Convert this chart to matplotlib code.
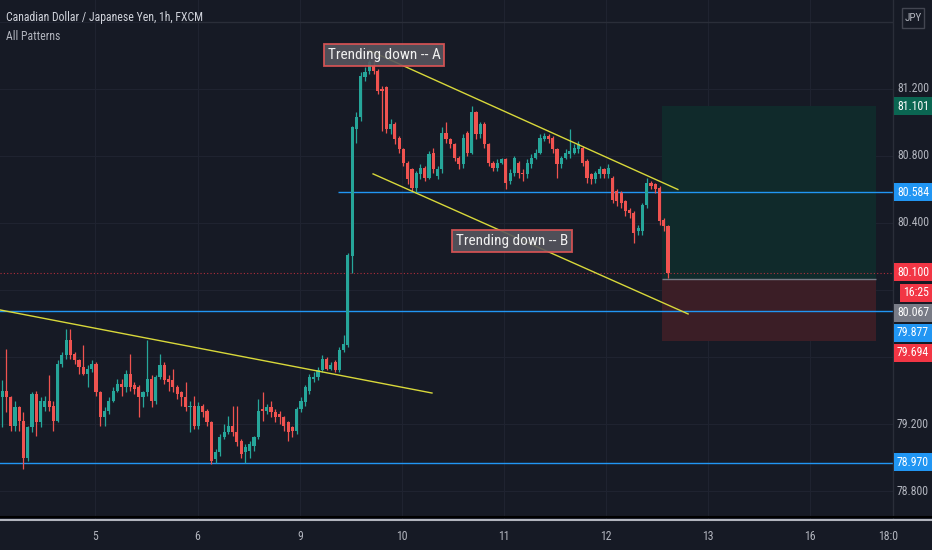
import numpy as np
import matplotlib
matplotlib.use('Agg')
import matplotlib.pyplot as plt
from matplotlib import font_manager
from matplotlib.patches import Rectangle
from matplotlib.lines import Line2D

installed = {f.name for f in font_manager.fontManager.ttflist}
narrow = [n for n in ['Liberation Sans Narrow', 'Roboto Condensed', 'Open Sans Condensed']
          if n in installed]
if narrow:
    plt.rcParams['font.family'] = [narrow[0], 'DejaVu Sans']
    FS = 1.0
else:
    plt.rcParams['font.family'] = ['Roboto', 'DejaVu Sans']
    FS = 0.85

# CAD/JPY 1h candles
opens = [79.36, 79.40, 79.36, 79.19, 79.30, 79.22, 79.00, 79.18, 79.38, 79.21,
         79.30, 79.34, 79.31, 79.22, 79.56, 79.61, 79.70, 79.62, 79.58, 79.54,
         79.50, 79.53, 79.56, 79.39, 79.24, 79.28, 79.34, 79.40, 79.44, 79.42,
         79.50, 79.43, 79.42, 79.36, 79.39, 79.47, 79.34, 79.48, 79.55, 79.47,
         79.46, 79.42, 79.39, 79.36, 79.30, 79.31, 79.19, 79.31, 79.28, 79.21,
         78.99, 79.03, 79.12, 79.15, 79.19, 79.15, 79.10, 79.03, 79.04, 79.07,
         79.12, 79.29, 79.28, 79.30, 79.27, 79.26, 79.24, 79.21, 79.18, 79.16,
         79.29, 79.33, 79.40, 79.47, 79.48, 79.52, 79.59, 79.53, 79.57, 79.52,
         79.64, 79.67, 80.20, 80.96, 81.03, 81.27, 81.31, 81.34, 81.31, 81.20,
         81.21, 80.96, 80.99, 80.91, 80.84, 80.76, 80.72, 80.61, 80.69, 80.73,
         80.67, 80.82, 80.68, 80.72, 80.94, 80.90, 80.87, 80.79, 80.75, 80.94,
         80.82, 81.06, 80.93, 80.99, 80.87, 80.76, 80.73, 80.76, 80.78, 80.65,
         80.70, 80.76, 80.70, 80.69, 80.75, 80.79, 80.82, 80.90, 80.92, 80.91,
         80.84, 80.75, 80.79, 80.81, 80.82, 80.84, 80.85, 80.77, 80.69, 80.66,
         80.69, 80.72, 80.69, 80.67, 80.59, 80.58, 80.53, 80.48, 80.46, 80.35,
         80.35, 80.51, 80.64, 80.63, 80.61, 80.42, 80.38]
highs = [79.46, 79.65, 79.37, 79.34, 79.31, 79.27, 79.19, 79.39, 79.40, 79.36,
         79.37, 79.49, 79.34, 79.58, 79.63, 79.77, 79.77, 79.63, 79.59, 79.67,
         79.55, 79.58, 79.57, 79.40, 79.30, 79.36, 79.42, 79.47, 79.47, 79.52,
         79.62, 79.45, 79.43, 79.40, 79.70, 79.49, 79.49, 79.62, 79.57, 79.49,
         79.53, 79.43, 79.40, 79.45, 79.34, 79.37, 79.33, 79.32, 79.29, 79.22,
         79.05, 79.14, 79.20, 79.25, 79.31, 79.31, 79.11, 79.08, 79.10, 79.13,
         79.35, 79.39, 79.32, 79.34, 79.29, 79.28, 79.25, 79.22, 79.19, 79.30,
         79.36, 79.43, 79.50, 79.51, 79.54, 79.61, 79.60, 79.57, 79.58, 79.66,
         79.73, 80.22, 80.98, 81.06, 81.30, 81.33, 81.37, 81.37, 81.32, 81.22,
         81.22, 81.02, 81.00, 80.92, 80.85, 80.77, 80.73, 80.71, 80.75, 80.74,
         80.83, 80.85, 80.74, 80.97, 81.00, 80.91, 80.88, 80.80, 80.93, 80.95,
         81.10, 81.07, 81.00, 81.00, 80.88, 80.77, 80.78, 80.79, 80.79, 80.72,
         80.80, 80.77, 80.72, 80.78, 80.81, 80.84, 80.93, 80.94, 80.93, 80.92,
         80.85, 80.80, 80.84, 80.96, 80.87, 80.89, 80.86, 80.78, 80.70, 80.71,
         80.74, 80.73, 80.75, 80.68, 80.60, 80.59, 80.54, 80.49, 80.47, 80.39,
         80.52, 80.67, 80.65, 80.64, 80.62, 80.43, 80.39]
lows = [79.18, 79.27, 79.16, 79.16, 79.16, 78.93, 78.98, 79.15, 79.13, 79.18,
        79.28, 79.28, 79.16, 79.21, 79.54, 79.59, 79.59, 79.56, 79.50, 79.49,
        79.42, 79.51, 79.37, 79.19, 79.19, 79.26, 79.33, 79.39, 79.37, 79.39,
        79.40, 79.38, 79.24, 79.30, 79.37, 79.30, 79.32, 79.47, 79.44, 79.40,
        79.39, 79.35, 79.31, 79.28, 79.15, 79.17, 79.17, 79.24, 79.19, 78.96,
        78.97, 79.01, 79.11, 79.14, 79.13, 79.07, 79.00, 78.97, 79.00, 79.04,
        79.11, 79.22, 79.26, 79.24, 79.21, 79.20, 79.16, 79.10, 79.12, 79.14,
        79.27, 79.31, 79.38, 79.45, 79.46, 79.51, 79.52, 79.52, 79.51, 79.51,
        79.63, 79.66, 80.10, 80.88, 81.01, 81.25, 81.29, 81.29, 81.17, 80.95,
        80.94, 80.93, 80.87, 80.82, 80.74, 80.63, 80.59, 80.58, 80.66, 80.65,
        80.66, 80.70, 80.66, 80.70, 80.88, 80.85, 80.77, 80.72, 80.73, 80.80,
        80.81, 80.90, 80.91, 80.85, 80.74, 80.71, 80.71, 80.75, 80.60, 80.63,
        80.68, 80.67, 80.65, 80.67, 80.73, 80.78, 80.81, 80.89, 80.88, 80.82,
        80.67, 80.73, 80.78, 80.79, 80.81, 80.82, 80.74, 80.64, 80.63, 80.64,
        80.67, 80.67, 80.67, 80.52, 80.50, 80.49, 80.44, 80.43, 80.28, 80.33,
        80.33, 80.49, 80.60, 80.58, 80.39, 80.35, 80.07]
closes = [79.40, 79.36, 79.19, 79.30, 79.22, 79.00, 79.18, 79.38, 79.21, 79.34,
          79.34, 79.30, 79.22, 79.56, 79.61, 79.70, 79.61, 79.58, 79.54, 79.50,
          79.53, 79.56, 79.39, 79.24, 79.28, 79.34, 79.40, 79.44, 79.42, 79.50,
          79.42, 79.41, 79.36, 79.39, 79.47, 79.34, 79.48, 79.55, 79.46, 79.45,
          79.42, 79.38, 79.36, 79.30, 79.31, 79.19, 79.31, 79.27, 79.21, 78.98,
          79.03, 79.12, 79.15, 79.19, 79.15, 79.09, 79.02, 79.06, 79.08, 79.12,
          79.28, 79.28, 79.30, 79.27, 79.24, 79.24, 79.19, 79.15, 79.16, 79.29,
          79.34, 79.42, 79.48, 79.48, 79.52, 79.59, 79.53, 79.55, 79.52, 79.64,
          79.68, 80.21, 80.97, 81.03, 81.28, 81.30, 81.36, 81.31, 81.19, 81.19,
          80.96, 80.99, 80.90, 80.84, 80.76, 80.66, 80.61, 80.70, 80.73, 80.67,
          80.81, 80.72, 80.72, 80.94, 80.90, 80.87, 80.79, 80.75, 80.91, 80.82,
          81.06, 80.93, 80.99, 80.87, 80.76, 80.73, 80.76, 80.78, 80.64, 80.70,
          80.79, 80.70, 80.69, 80.76, 80.79, 80.82, 80.91, 80.92, 80.90, 80.84,
          80.75, 80.79, 80.82, 80.83, 80.85, 80.87, 80.76, 80.67, 80.66, 80.70,
          80.72, 80.69, 80.73, 80.54, 80.53, 80.52, 80.47, 80.46, 80.34, 80.37,
          80.51, 80.64, 80.62, 80.60, 80.41, 80.38, 80.10]

day_labels = ['5', '6', '9', '10', '11', '12', '13', '16', '18:0']
day_pos = [21.8, 45.8, 69.8, 93.7, 117.6, 141.5, 165.4, 189.3, 207.5]
price_ticks = [81.2, 80.8, 80.4, 79.2, 78.8]

# drawings
levels_full = [79.877, 78.970]
level_ray = 80.584
last_price = 80.100
entry, target, stop = 80.067, 81.101, 79.694
line_low = ([-0.5, 100.7], [79.881, 79.385])
line_a = ([86.0, 158.3], [81.43, 80.60])
line_b = ([86.9, 160.7], [80.693, 79.857])

BG = '#161a25'
GRID = '#1f2330'
UP = '#26a69a'
DN = '#ef5350'
BLUE = '#2196f3'
YEL = '#d8d83a'
W, H = 932, 550

fig = plt.figure(figsize=(9.32, 5.5), dpi=100, facecolor=BG)
ax = fig.add_axes([0, 31 / H, 893 / W, 519 / H])
ax.set_facecolor(BG)
ax.set_xlim(-0.5, 208.7)
ax.set_ylim(78.633, 81.731)
for s in ax.spines.values():
    s.set_visible(False)
ax.set_xticks([])
ax.set_yticks([])

for p in [81.6, 81.2, 80.8, 80.4, 80.0, 79.6, 79.2, 78.8]:
    ax.axhline(p, color=GRID, lw=0.8, zorder=0)
for d in day_pos[:-1]:
    ax.axvline(d, color=GRID, lw=0.8, zorder=0)

# long position tool
ax.add_patch(Rectangle((154.6, entry), 50.1, target - entry, fc='#102a2b', ec='none', zorder=1))
ax.add_patch(Rectangle((154.6, stop), 50.1, entry - stop, fc='#3b1e26', ec='none', zorder=1))
ax.hlines(entry, 154.6, 204.7, color='#787b86', lw=1, zorder=2)

# horizontal levels
for lv in levels_full:
    ax.axhline(lv, color=BLUE, lw=1, zorder=2)
ax.hlines(level_ray, 78.7, 208.7, color=BLUE, lw=1, zorder=2)
ax.axhline(last_price, color='#f23645', lw=0.8, ls=(0, (1, 2)), alpha=0.7, zorder=2)
ax.hlines(81.60, 42, 208.7, color='#2a2e39', lw=1, zorder=1)

# candles
o = np.array(opens)
h = np.array(highs)
l = np.array(lows)
c = np.array(closes)
x = np.arange(len(c))
cols = np.where(c >= o, UP, DN)
ax.vlines(x, l, h, colors=cols, lw=0.9, zorder=3)
ax.bar(x, np.maximum(np.abs(c - o), 0.006), bottom=np.minimum(o, c), width=0.74,
       color=cols, lw=0, zorder=4)

# trend lines
for xs, ys in [line_low, line_a, line_b]:
    ax.plot(xs, ys, color=YEL, lw=1, zorder=5)

lab = dict(ha='center', va='center', color='#f0f0f0', fontsize=11 * FS, zorder=6,
           bbox=dict(boxstyle='square,pad=0.25', fc='#56565e', ec='#e05555', lw=1.3, alpha=0.9))
ax.text(89.5, 81.403, 'Trending down -- A', **lab)
ax.text(119.4, 80.293, 'Trending down -- B', **lab)

# header text
fig.text(6 / W, 1 - 17 / H, 'Canadian Dollar / Japanese Yen, 1h, FXCM', color='#d1d4dc',
         fontsize=8.5 * FS, va='center')
fig.text(6 / W, 1 - 37 / H, 'All Patterns', color='#b2b5be', fontsize=8.5 * FS, va='center')

# right price scale
fig.add_artist(Line2D([893 / W, 893 / W], [31 / H, 1], color='#2a2e39', lw=1))
for p in price_ticks:
    yy = ax.transData.transform((0, p))[1] / (fig.dpi * 5.5)
    fig.text(913 / W, yy, f'{p:.3f}', color='#b2b5be', fontsize=8.5 * FS, ha='center', va='center')


def tag(txt, ypx, fc, x0=894, x1=932):
    fig.add_artist(Rectangle((x0 / W, 1 - (ypx + 9) / H), (x1 - x0) / W, 18 / H,
                             transform=fig.transFigure, fc=fc, ec='none', zorder=5))
    fig.text((x0 + x1) / 2 / W, 1 - ypx / H, txt, color='white', fontsize=8.5 * FS,
             ha='center', va='center', zorder=6)


tag('81.101', 106, '#0b6652')
tag('80.584', 192, BLUE)
tag('80.100', 272, '#f23645')
tag('80.067', 313, '#787b86')
tag('16:25', 293, '#f23645', x0=900)
tag('79.877', 333, BLUE)
tag('79.694', 353, '#f23645')
tag('78.970', 462, BLUE)

# JPY box
fig.add_artist(Rectangle((902 / W, 1 - 28 / H), 22 / W, 20 / H, transform=fig.transFigure,
                         fc=BG, ec='#434651', lw=1))
fig.text(913 / W, 1 - 18 / H, 'JPY', color='#b2b5be', fontsize=8 * FS, ha='center', va='center')

# bottom separator and time scale
fig.add_artist(Line2D([0, 1], [1 - 517 / H, 1 - 517 / H], color='#000000', lw=1.5))
fig.add_artist(Line2D([0, 1], [1 - 519.5 / H, 1 - 519.5 / H], color='#b2b5be', lw=1.5))
for d, t in zip(day_pos, day_labels):
    xx = ax.transData.transform((d, 0))[0] / (fig.dpi * 9.32)
    fig.text(xx, 1 - 536 / H, t, color='#b2b5be', fontsize=8.5 * FS, ha='center', va='center')

fig.savefig('out.png', dpi=100, facecolor=BG)
